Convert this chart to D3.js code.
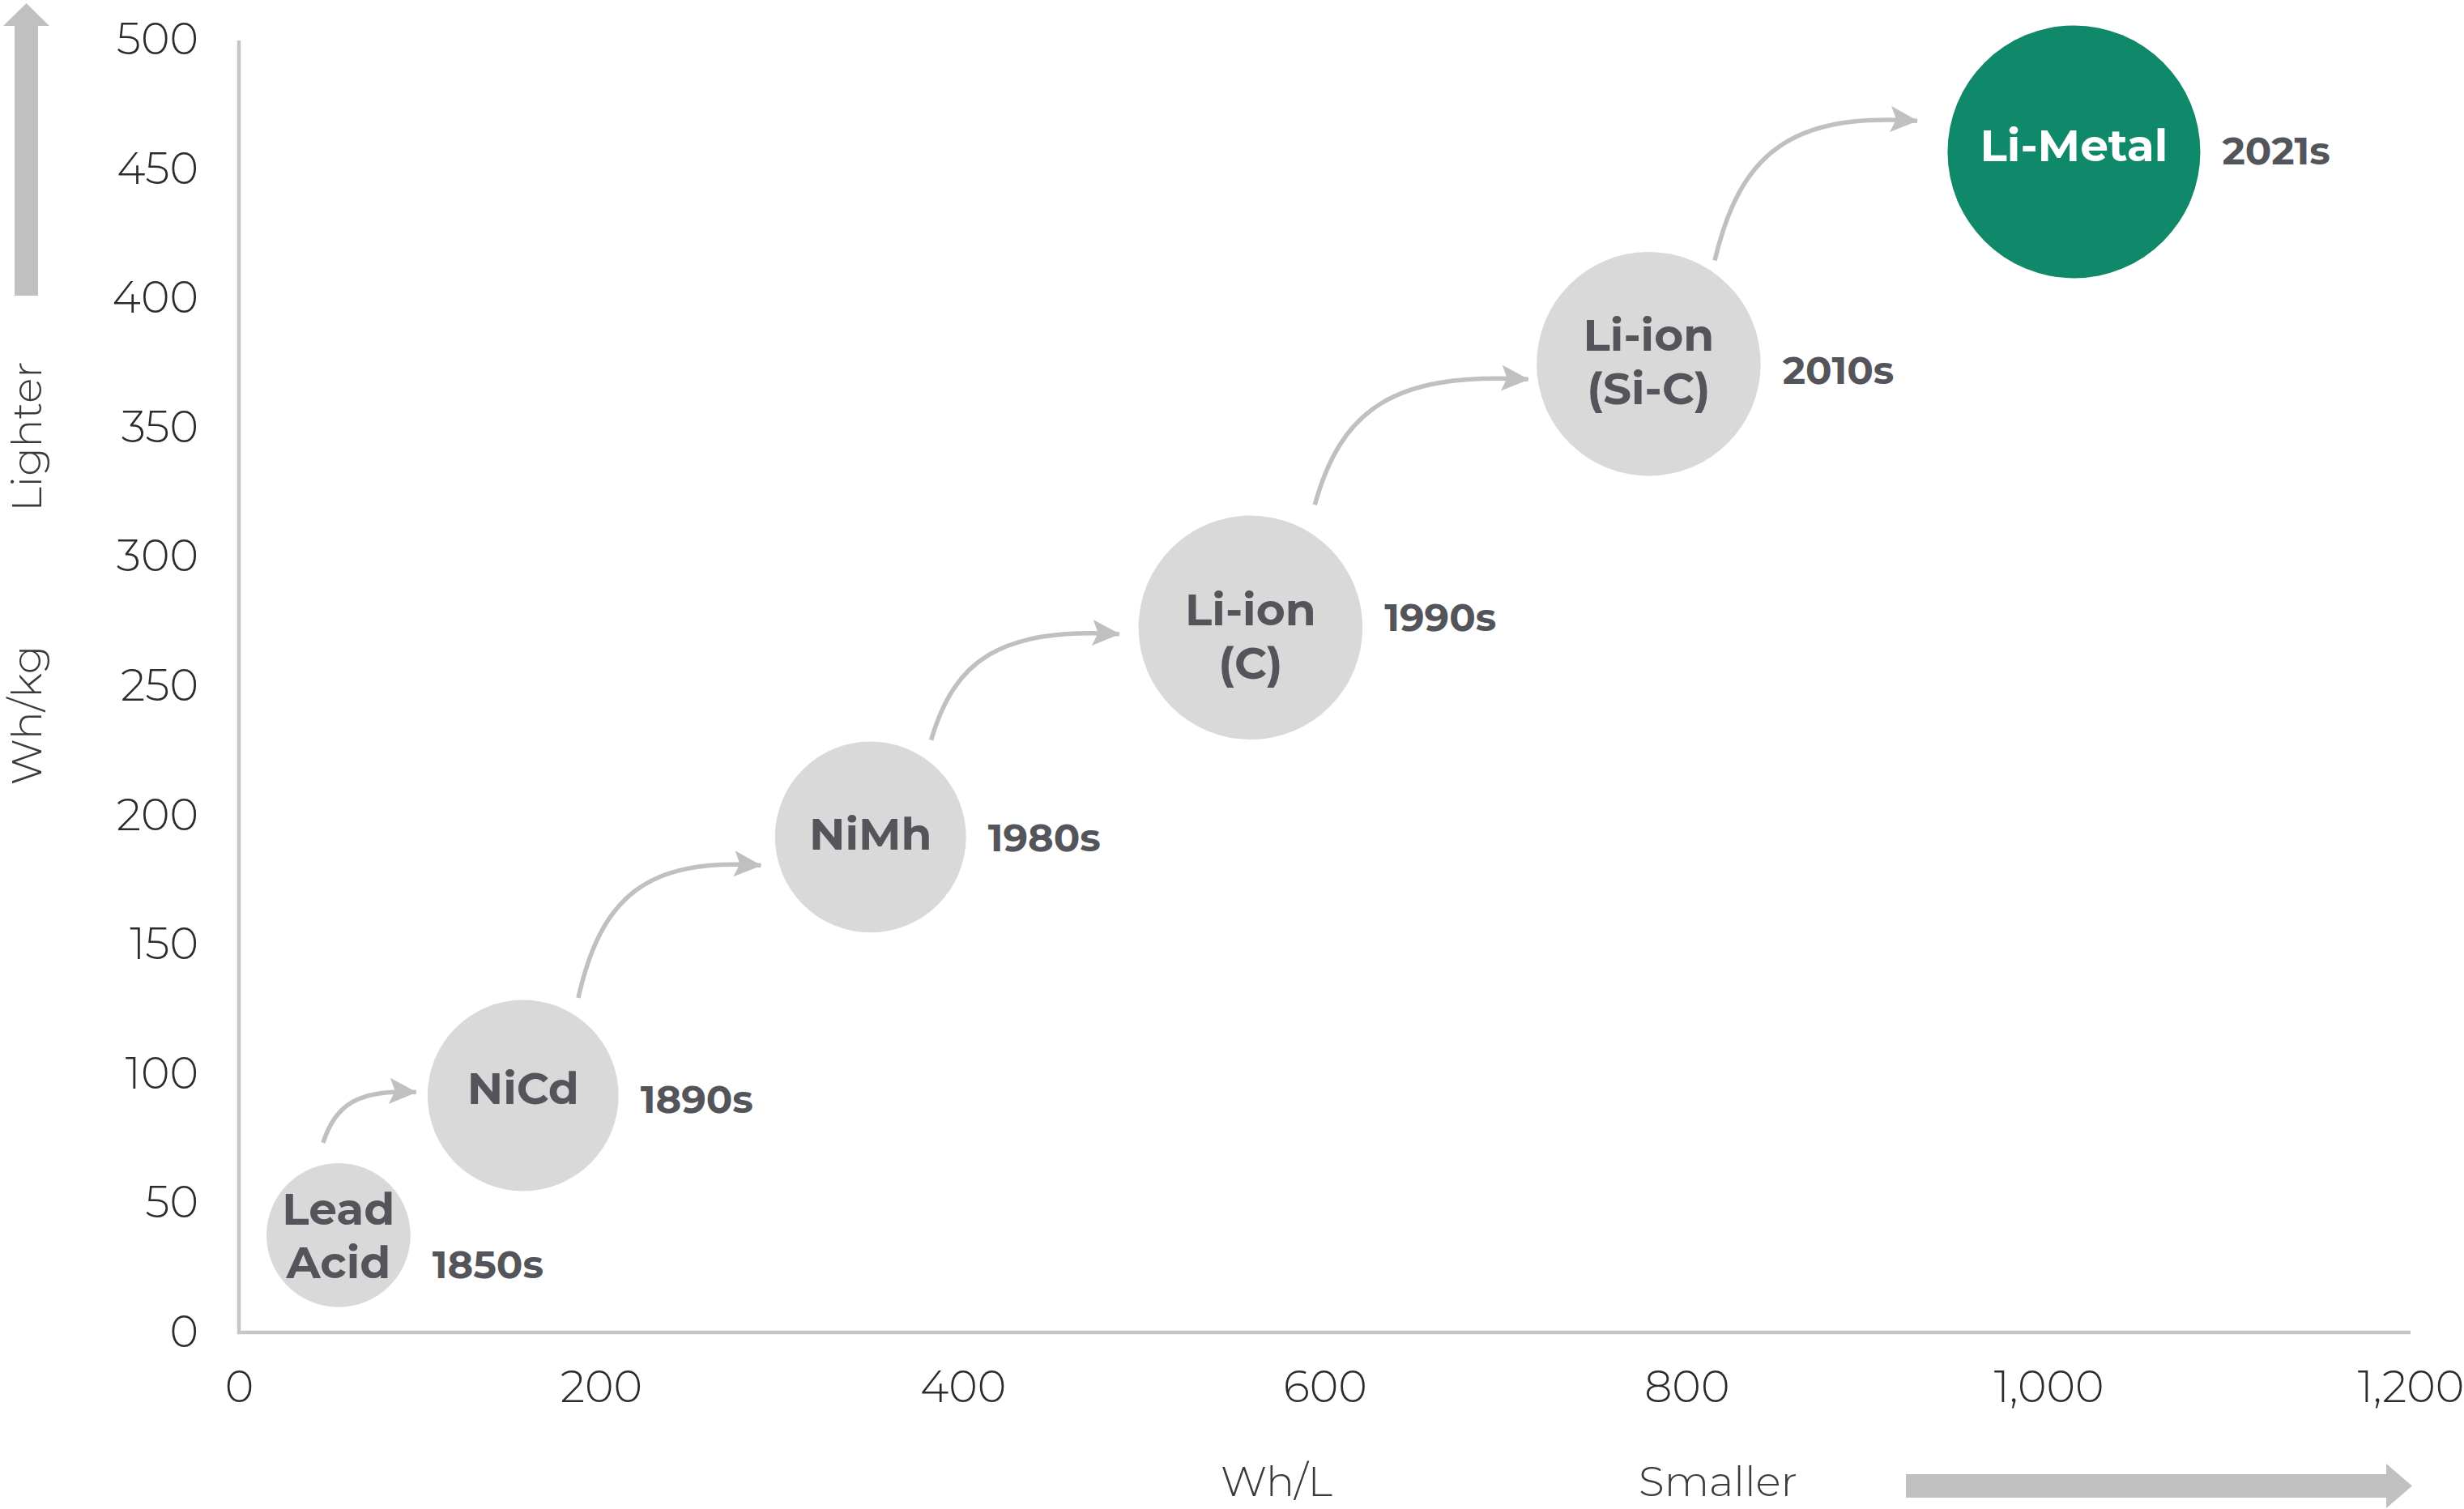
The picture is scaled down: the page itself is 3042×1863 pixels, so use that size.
<!DOCTYPE html>
<html>
<head>
<meta charset="utf-8">
<script src="https://cdn.jsdelivr.net/npm/d3@7"></script>
<style>
  body { margin: 0; background: #fff; }
  svg { display: block; }
  .tick text { font-family: "Montserrat", "Open Sans", sans-serif; font-weight: 300; fill: #2b2b2b; }
</style>
</head>
<body>
<svg id="chart"></svg>
<script>
// battery chemistries, one bubble each
let techs = ["Lead Acid", "NiCd", "NiMh", "Li-ion (C)", "Li-ion (Si-C)", "Li-Metal"];
let techLines = [["Lead", "Acid"], ["NiCd"], ["NiMh"], ["Li-ion", "(C)"], ["Li-ion", "(Si-C)"], ["Li-Metal"]];
let decades = ["1850s", "1890s", "1980s", "1990s", "2010s", "2021s"];
let whPerL = [55, 157, 349, 559, 779, 1014];   // volumetric energy density
let whPerKg = [37, 91, 191, 272, 374, 456];    // gravimetric energy density
let bubbleSize = [1, 1.76, 1.76, 2.42, 2.42, 3.08];

// curved arrows between bubbles, [Wh/L, Wh/kg] of tail and head
let arrowFrom = [[46.5, 72.7], [187.5, 128.8], [382.5, 228.5], [594.5, 319.5], [815.5, 414]];
let arrowTo = [[101.5, 92.3], [292, 180], [490, 269.5], [716, 368], [931, 468]];

let xTicks = [0, 200, 400, 600, 800, 1000, 1200];
let yTicks = [0, 50, 100, 150, 200, 250, 300, 350, 400, 450, 500];

// small label nudges (px): name block and decade label
let nameShift = [0, -9, -4, 10, -3, -8];
let decadeShift = [36, 4, 0, -13, 8, -2];

let W = 3042, H = 1863;
let svg = d3.select("#chart").attr("width", W).attr("height", H);

let x = d3.scaleLinear().domain([0, 1200]).range([295, 2976]);
let y = d3.scaleLinear().domain([0, 500]).range([1643, 47]);
let r = d3.scaleSqrt().domain([0, 3.08]).range([0, 156]);

let grey = "#c6c6c6";
let textGrey = "#54555a";
let boldFont = '"Montserrat", "Open Sans", sans-serif';

// axes
let xAxis = svg.append("g").attr("transform", "translate(0,1645)")
    .call(d3.axisBottom(x).tickValues(xTicks).tickSize(0).tickPadding(48).tickFormat(d3.format(",")));
xAxis.select(".domain").remove();
xAxis.selectAll("text").attr("font-size", 54);

let yAxis = svg.append("g").attr("transform", "translate(295,0)")
    .call(d3.axisLeft(y).tickValues(yTicks).tickSize(0).tickPadding(50));
yAxis.select(".domain").remove();
yAxis.selectAll("text").attr("font-size", 54).attr("dy", "0.36em");

// axis lines
svg.append("line").attr("x1", 295).attr("x2", 295).attr("y1", 50).attr("y2", 1647)
    .attr("stroke", grey).attr("stroke-width", 4.5);
svg.append("line").attr("x1", 293).attr("x2", x(1200)).attr("y1", 1645).attr("y2", 1645)
    .attr("stroke", grey).attr("stroke-width", 4.5);

// axis titles
let titleStyle = s => s.attr("font-family", '"Montserrat", "Open Sans", sans-serif')
    .attr("font-weight", 300).attr("font-size", 52).attr("fill", "#3a3a3a");

svg.append("text").attr("x", 1576).attr("y", 1829).attr("dy", "0.35em")
    .attr("text-anchor", "middle").text("Wh/L").call(titleStyle);
svg.append("text").attr("x", 2121).attr("y", 1829).attr("dy", "0.35em")
    .attr("text-anchor", "middle").text("Smaller").call(titleStyle);
svg.append("text").attr("transform", "translate(33,883) rotate(-90)").attr("dy", "0.35em")
    .attr("text-anchor", "middle").text("Wh/kg").call(titleStyle);
svg.append("text").attr("transform", "translate(33,539) rotate(-90)").attr("dy", "0.35em")
    .attr("text-anchor", "middle").text("Lighter").call(titleStyle);

// big direction arrows
let arrowGrey = "#c0c0c0";
svg.append("path")
    .attr("d", "M2353,1820 L2946,1820 L2946,1807 L2978,1834.5 L2946,1862 L2946,1849 L2353,1849 Z")
    .attr("fill", arrowGrey);
svg.append("path")
    .attr("d", "M18,365 L18,32 L4,32 L32.5,4 L61,32 L47,32 L47,365 Z")
    .attr("fill", arrowGrey);

// curved arrows
svg.append("defs").append("marker")
    .attr("id", "head").attr("markerUnits", "userSpaceOnUse")
    .attr("markerWidth", 36).attr("markerHeight", 34)
    .attr("refX", 33).attr("refY", 16).attr("orient", "auto")
    .append("path").attr("d", "M0,0 L34,16 L0,32 L7,16 Z").attr("fill", arrowGrey);

let arrowPath = (a, b) => {
    let sx = x(a[0]), sy = y(a[1]), ex = x(b[0]), ey = y(b[1]);
    let w = ex - sx, h = sy - ey;
    let c1 = [sx + 0.12 * w, sy - 0.75 * h];
    let c2 = [sx + 0.35 * w, ey - 0.06 * h];
    return `M${sx},${sy} C${c1[0]},${c1[1]} ${c2[0]},${c2[1]} ${ex - 8},${ey}`;
};

svg.append("g").selectAll("path")
    .data(d3.range(arrowFrom.length))
    .join("path")
    .attr("d", i => arrowPath(arrowFrom[i], arrowTo[i]))
    .attr("fill", "none")
    .attr("stroke", arrowGrey)
    .attr("stroke-width", 5.5)
    .attr("marker-end", "url(#head)");

// bubbles
let bubbles = svg.append("g").selectAll("g")
    .data(techs)
    .join("g")
    .attr("transform", (d, i) => `translate(${x(whPerL[i])},${y(whPerKg[i])})`);

bubbles.append("circle")
    .attr("r", (d, i) => r(bubbleSize[i]))
    .attr("fill", (d, i) => i === techs.length - 1 ? "#10896b" : "#d9d9d9");

bubbles.each(function (d, i) {
    let lines = techLines[i];
    let g = d3.select(this);
    let lh = 66;
    lines.forEach((t, j) => {
        g.append("text")
            .attr("x", 0)
            .attr("y", (j - (lines.length - 1) / 2) * lh + nameShift[i])
            .attr("dy", "0.36em")
            .attr("text-anchor", "middle")
            .attr("font-family", boldFont)
            .attr("font-weight", 700)
            .attr("font-size", 55)
            .attr("fill", i === techs.length - 1 ? "#ffffff" : textGrey)
            .text(t);
    });
    g.append("text")
        .attr("x", r(bubbleSize[i]) + 27)
        .attr("y", decadeShift[i])
        .attr("dy", "0.36em")
        .attr("font-family", boldFont)
        .attr("font-weight", 700)
        .attr("font-size", 48)
        .attr("fill", textGrey)
        .text(decades[i]);
});
</script>
</body>
</html>
